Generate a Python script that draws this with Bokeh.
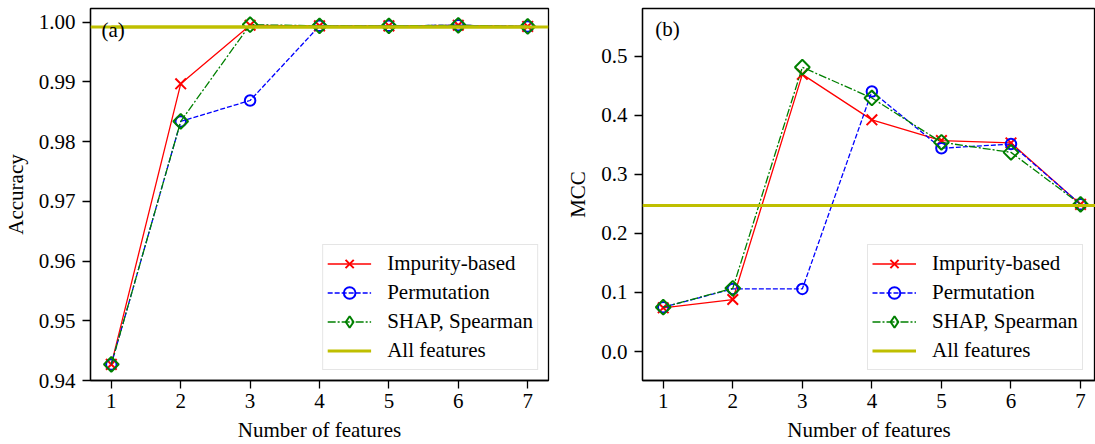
import math
from bokeh.plotting import figure
from bokeh.layouts import row
from bokeh.models import (Range1d, FixedTicker, NumeralTickFormatter, Span, Label,
                          Legend, LegendItem)
from bokeh.embed import file_html
from bokeh.resources import INLINE

# ---------------- data ----------------
features = [1, 2, 3, 4, 5, 6, 7]
x_ticks = [1, 2, 3, 4, 5, 6, 7]

acc_impurity = [0.9427, 0.9897, 0.9995, 0.9994, 0.9994, 0.9995, 0.9993]
acc_permutation = [0.9427, 0.9834, 0.9869, 0.9994, 0.9994, 0.9995, 0.9993]
acc_shap = [0.9427, 0.9834, 0.9996, 0.9994, 0.9994, 0.9995, 0.9993]
acc_all = 0.9992
acc_ticks = [0.94, 0.95, 0.96, 0.97, 0.98, 0.99, 1.00]

mcc_impurity = [0.074, 0.088, 0.469, 0.392, 0.357, 0.353, 0.249]
mcc_permutation = [0.075, 0.106, 0.106, 0.440, 0.344, 0.351, 0.249]
mcc_shap = [0.075, 0.107, 0.481, 0.429, 0.354, 0.337, 0.249]
mcc_all = 0.247
mcc_ticks = [0.0, 0.1, 0.2, 0.3, 0.4, 0.5]

labels = ["Impurity-based", "Permutation", "SHAP, Spearman", "All features"]

FONT = "Liberation Serif"
FS = "21px"
OLIVE = "#bfbf00"


def style(p, yticks, yfmt, ylabel):
    p.xgrid.visible = False
    p.ygrid.visible = False
    p.outline_line_color = "black"
    p.outline_line_width = 1.3
    p.background_fill_color = "white"
    p.border_fill_color = "white"
    for ax in (p.xaxis[0], p.yaxis[0]):
        ax.axis_line_color = "black"
        ax.axis_line_width = 1.3
        ax.major_tick_line_color = "black"
        ax.major_tick_line_width = 1.3
        ax.major_tick_out = 8
        ax.major_tick_in = 0
        ax.minor_tick_line_color = None
        ax.major_label_text_font = FONT
        ax.major_label_text_font_size = FS
        ax.major_label_text_color = "black"
        ax.axis_label_text_font = FONT
        ax.axis_label_text_font_size = FS
        ax.axis_label_text_font_style = "normal"
        ax.axis_label_text_color = "black"
    p.xaxis[0].ticker = FixedTicker(ticks=x_ticks)
    p.xaxis[0].major_label_standoff = 5
    p.xaxis[0].axis_label_standoff = 7
    p.xaxis[0].axis_label = "Number of features"
    p.yaxis[0].ticker = FixedTicker(ticks=yticks)
    p.yaxis[0].formatter = NumeralTickFormatter(format=yfmt)
    p.yaxis[0].major_label_standoff = 7
    p.yaxis[0].axis_label_standoff = 8
    p.yaxis[0].axis_label = ylabel


def draw(p, imp, perm, shap, allv, loc):
    l1 = p.line(features, imp, line_color="red", line_width=1.3)
    m1 = p.scatter(features, imp, marker="x", size=15, line_color="red", line_width=2)
    l2 = p.line(features, perm, line_color="blue", line_width=1.3, line_dash="5 2")
    m2 = p.scatter(features, perm, marker="circle", size=10.5, line_color="blue",
                   line_width=2, fill_color=None)
    l3 = p.line(features, shap, line_color="green", line_width=1.3, line_dash="8 2 2 2")
    p.scatter(features, shap, marker="square", angle=math.pi / 4, size=10.5,
              line_color="green", line_width=2, fill_color=None)
    # legend-only diamond (muted -> invisible on the plot, drawn in the legend)
    m3 = p.scatter(features, shap, marker="diamond", size=16, line_color="green",
                   line_width=2, fill_color=None, muted_alpha=0)
    m3.muted = True
    l4 = p.line(features, [allv] * len(features), line_color=OLIVE, line_width=3)
    p.add_layout(Span(location=allv, dimension="width", line_color=OLIVE, line_width=3))

    lg = Legend(items=[
        LegendItem(label=labels[0], renderers=[l1, m1]),
        LegendItem(label=labels[1], renderers=[l2, m2]),
        LegendItem(label=labels[2], renderers=[l3, m3]),
        LegendItem(label=labels[3], renderers=[l4]),
    ])
    lg.location = loc
    lg.glyph_width = 44
    lg.glyph_height = 29
    lg.label_height = 29
    lg.spacing = 0
    lg.padding = 4
    lg.label_standoff = 16
    lg.margin = 10
    lg.border_line_color = "#cccccc"
    lg.border_line_width = 1.3
    lg.background_fill_color = "white"
    lg.background_fill_alpha = 0.8
    lg.label_text_font = FONT
    lg.label_text_font_size = FS
    lg.label_text_color = "black"
    p.add_layout(lg)


# ---------------- panel (a) ----------------
pa = figure(width=561, height=444, output_backend="svg", toolbar_location=None,
            x_range=Range1d(0.7, 7.3), y_range=Range1d(0.94, 1.00231),
            min_border_left=89, min_border_right=13, min_border_top=8, min_border_bottom=64)
style(pa, acc_ticks, "0.00", "Accuracy")
draw(pa, acc_impurity, acc_permutation, acc_shap, acc_all, "bottom_right")
pa.add_layout(Label(x=0.858, y=0.99871, text="(a)", text_font=FONT, text_font_size=FS,
                    text_baseline="middle", text_align="left", text_color="black"))

# ---------------- panel (b) ----------------
pb = figure(width=534, height=444, output_backend="svg", toolbar_location=None,
            x_range=Range1d(0.702, 7.215), y_range=Range1d(-0.049, 0.5804),
            min_border_left=81, min_border_right=0, min_border_top=8, min_border_bottom=64)
style(pb, mcc_ticks, "0.0", "MCC")
draw(pb, mcc_impurity, mcc_permutation, mcc_shap, mcc_all, (225, 10))
pb.add_layout(Label(x=0.887, y=0.545, text="(b)", text_font=FONT, text_font_size=FS,
                    text_baseline="middle", text_align="left", text_color="black"))

layout = row(pa, pb)
open("out.html", "w").write(file_html(layout, INLINE))
